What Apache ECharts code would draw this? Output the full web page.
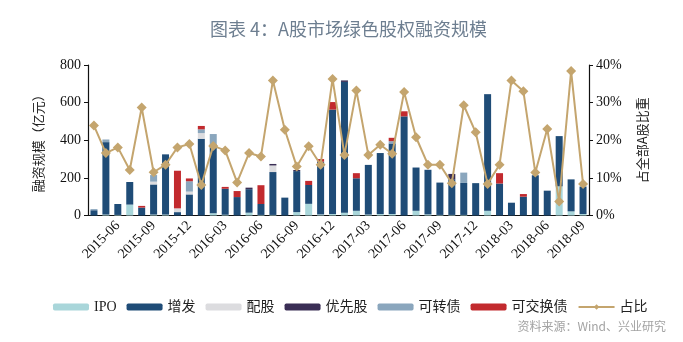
<!DOCTYPE html>
<html>
<head>
<meta charset="utf-8">
<script src="https://cdn.jsdelivr.net/npm/echarts@6/dist/echarts.min.js"></script>
<style>
  html, body { margin: 0; padding: 0; background: #ffffff; }
  #chart { width: 683px; height: 342px; }
</style>
</head>
<body>
<div id="chart"></div>
<script>
// Monthly green equity financing in the A-share market (100m CNY) and share of all A-share financing
const months = [
  '2015-04','2015-05','2015-06','2015-07','2015-08','2015-09','2015-10','2015-11','2015-12',
  '2016-01','2016-02','2016-03','2016-04','2016-05','2016-06','2016-07','2016-08','2016-09','2016-10','2016-11','2016-12',
  '2017-01','2017-02','2017-03','2017-04','2017-05','2017-06','2017-07','2017-08','2017-09','2017-10','2017-11','2017-12',
  '2018-01','2018-02','2018-03','2018-04','2018-05','2018-06','2018-07','2018-08','2018-09'
];
const ipo        = [0, 5, 3, 58, 0, 5, 5, 0, 0,   0, 12, 4, 0, 15, 3, 3, 0, 18, 62, 6, 8,   15, 25, 5, 8, 8, 0, 25, 6, 3, 3, 3, 0,   25, 0, 0, 0, 0, 0, 155, 22, 8];
const placement  = [28, 385, 58, 120, 42, 160, 320, 18, 112,   408, 360, 138, 98, 125, 58, 228, 95, 218, 100, 280, 555,   695, 173, 264, 324, 375, 527, 230, 237, 172, 190, 170, 172,   620, 170, 68, 100, 214, 132, 267, 170, 146];
const rights     = [0, 0, 0, 0, 0, 15, 0, 20, 15,   30, 0, 0, 0, 0, 0, 35, 0, 0, 0, 0, 0,   0, 0, 0, 0, 0, 0, 0, 0, 0, 0, 0, 0,   0, 0, 0, 0, 0, 0, 0, 0, 0];
const preferred  = [0, 0, 0, 0, 0, 0, 0, 0, 0,   0, 6, 0, 0, 8, 0, 8, 0, 6, 0, 0, 0,   8, 0, 0, 0, 0, 0, 0, 0, 0, 28, 0, 0,   0, 0, 0, 0, 0, 0, 0, 0, 0];
const convertible= [6, 14, 0, 0, 0, 35, 0, 0, 55,   20, 55, 0, 0, 0, 0, 0, 0, 0, 0, 0, 0,   0, 0, 0, 0, 12, 0, 0, 0, 0, 0, 55, 0,   0, 0, 0, 0, 0, 0, 0, 0, 0];
const exchangeable=[0, 0, 0, 0, 9, 0, 0, 200, 15,   18, 0, 10, 32, 0, 100, 0, 0, 0, 22, 14, 40,   0, 27, 0, 0, 18, 27, 0, 0, 0, 0, 0, 0,   0, 55, 0, 14, 0, 0, 0, 0, 0];
const sharePct   = [23.9, 16.6, 18.1, 12.1, 28.7, 11.5, 13.5, 18.1, 19.0,
  8.1, 18.5, 17.3, 8.8, 16.6, 15.7, 35.9, 22.8, 13.0, 18.4, 13.5, 36.3,
  16.1, 33.2, 16.1, 18.8, 16.4, 32.8, 20.8, 13.5, 13.5, 8.6, 29.3, 22.1,
  8.4, 13.5, 35.9, 33.0, 11.4, 23.0, 3.7, 38.4, 8.4];
const leftTicks = { min: 0, max: 800, interval: 200 };
const rightTicks = { min: 0, max: 40, interval: 10 };

const serif = "'Liberation Serif', 'Noto Sans CJK SC', serif";
const cjk = "'Noto Sans CJK SC', sans-serif";

const barSeries = [
  { name: 'IPO', data: ipo, color: '#a9d6da' },
  { name: '增发', data: placement, color: '#1f4c77' },
  { name: '配股', data: rights, color: '#dcdcdf' },
  { name: '优先股', data: preferred, color: '#3a2e55' },
  { name: '可转债', data: convertible, color: '#8aa6bd' },
  { name: '可交换债', data: exchangeable, color: '#c22a2e' }
].map(s => ({
  name: s.name,
  type: 'bar',
  stack: 'total',
  barWidth: 7,
  data: s.data,
  itemStyle: { color: s.color },
  emphasis: { disabled: true }
}));

const chart = echarts.init(document.getElementById('chart'), null, { renderer: 'canvas' });
chart.setOption({
  animation: false,
  backgroundColor: '#ffffff',
  title: {
    text: '图表 4：A股市场绿色股权融资规模',
    left: 205,
    top: 15,
    textStyle: { fontFamily: cjk, fontSize: 18, fontWeight: 'normal', color: '#6d7e90' }
  },
  graphic: [{
    type: 'text',
    right: 17,
    top: 320,
    style: { text: '资料来源：Wind、兴业研究', fontFamily: cjk, fontSize: 12, fill: '#a3a3a3' }
  }],
  legend: {
    left: 48,
    top: 295,
    itemWidth: 36,
    itemHeight: 7,
    itemGap: 10,
    textStyle: { fontFamily: serif, fontSize: 14, color: '#222' },
    data: ['IPO', '增发', '配股', '优先股', '可转债', '可交换债', '占比']
  },
  grid: { left: 88, top: 65, width: 501, height: 150.5 },
  xAxis: {
    type: 'category',
    data: months,
    boundaryGap: true,
    axisLine: { lineStyle: { color: '#111', width: 1.2 } },
    axisTick: { show: false },
    axisLabel: {
      interval: (i) => (i - 2) % 3 === 0,
      rotate: 45,
      margin: 8,
      fontFamily: serif,
      fontSize: 14,
      color: '#111'
    }
  },
  yAxis: [{
    type: 'value',
    min: leftTicks.min, max: leftTicks.max, interval: leftTicks.interval,
    name: '融资规模（亿元）',
    nameLocation: 'middle',
    nameRotate: 90,
    nameGap: 43,
    nameTextStyle: { fontFamily: cjk, fontSize: 13, color: '#222' },
    axisLine: { show: true, lineStyle: { color: '#111', width: 1.2 } },
    axisTick: { show: true, length: 4, inside: false, lineStyle: { color: '#111' } },
    axisLabel: { margin: 7, fontFamily: serif, fontSize: 14, color: '#111' },
    splitLine: { show: false }
  }, {
    type: 'value',
    min: rightTicks.min, max: rightTicks.max, interval: rightTicks.interval,
    name: '占全部A股比重',
    nameLocation: 'middle',
    nameRotate: 90,
    nameGap: 47,
    nameTextStyle: { fontFamily: cjk, fontSize: 13, color: '#222' },
    axisLine: { show: true, lineStyle: { color: '#111', width: 1.2 } },
    axisTick: { show: true, length: 4, inside: false, lineStyle: { color: '#111' } },
    axisLabel: { margin: 7, fontFamily: serif, fontSize: 14, color: '#111', formatter: '{value}%' },
    splitLine: { show: false }
  }],
  series: barSeries.concat([{
    name: '占比',
    type: 'line',
    yAxisIndex: 1,
    data: sharePct,
    symbol: 'diamond',
    symbolSize: 10,
    showAllSymbol: true,
    lineStyle: { color: '#c4a56e', width: 2 },
    itemStyle: { color: '#c4a56e' },
    emphasis: { disabled: true },
    z: 5
  }])
});
</script>
</body>
</html>
